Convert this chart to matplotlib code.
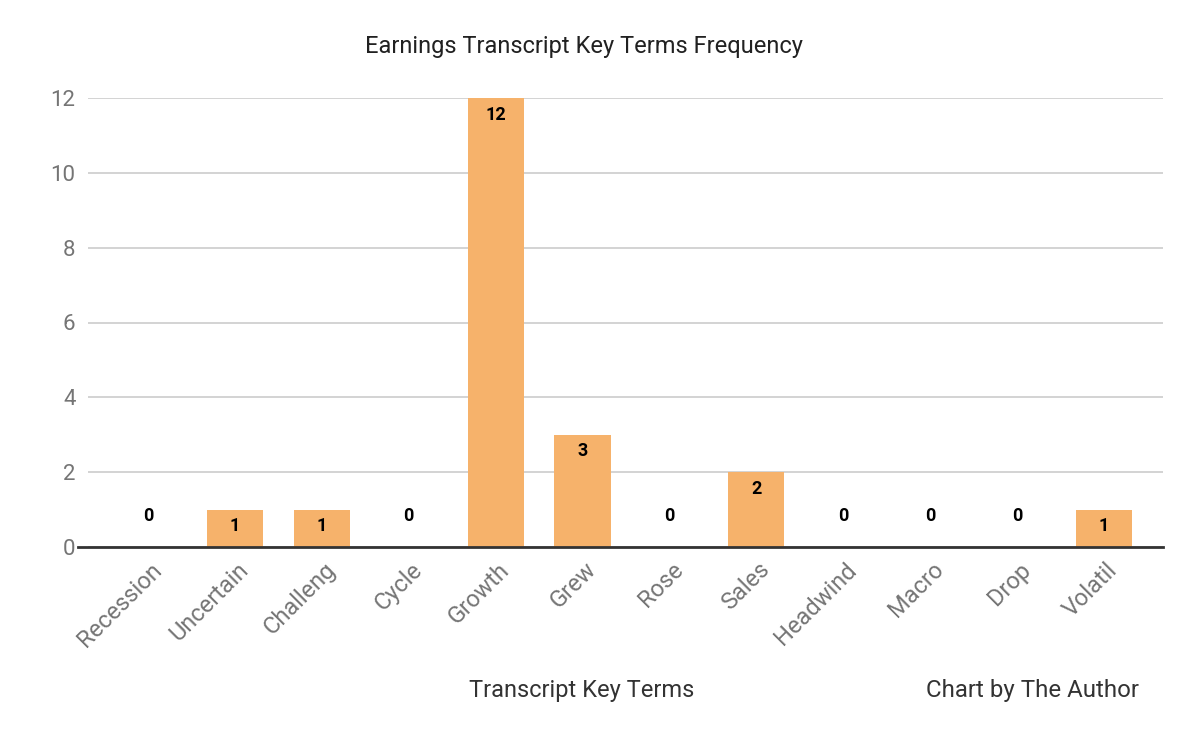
import matplotlib.pyplot as plt
from matplotlib.transforms import ScaledTranslation

terms = ["Recession", "Uncertain", "Challeng", "Cycle", "Growth", "Grew",
         "Rose", "Sales", "Headwind", "Macro", "Drop", "Volatil"]
counts = [0, 1, 1, 0, 12, 3, 0, 2, 0, 0, 0, 1]
yticks = [0, 2, 4, 6, 8, 10, 12]

plt.rcParams['font.family'] = ['Roboto', 'DejaVu Sans']

fig = plt.figure(figsize=(12, 7.41), dpi=100)
ax = fig.add_axes([88 / 1200, 1 - 547 / 741, 1075 / 1200, 449 / 741])

x = list(range(len(terms)))
ax.bar(x, counts, width=0.645, color="#F6B26B", zorder=3)

for xi, v in zip(x, counts):
    off = -12 if v > 0 else 22
    ax.annotate(str(v), (xi, v), xytext=(0, off), textcoords="offset points",
                ha="center", va="center", fontsize=13, fontweight="bold",
                color="black", zorder=4)

ax.set_xlim(-0.69, 11.68)
ax.set_ylim(0, 12)
ax.set_yticks(yticks)
ax.set_yticklabels([str(t) for t in yticks], fontsize=16, color="#757575")
ax.grid(axis="y", color="#cccccc", linewidth=1.2, zorder=0)
ax.tick_params(axis="y", length=0, pad=9)
ax.set_xticks(x)
ax.set_xticklabels(terms, rotation=45, ha="right", va="top",
                   rotation_mode="anchor", fontsize=17, color="#757575")
ax.tick_params(axis="x", length=0, pad=8)
shift = ScaledTranslation(2 / 100, 0, fig.dpi_scale_trans)
for lbl in ax.get_xticklabels():
    lbl.set_transform(lbl.get_transform() + shift)
for s in ax.spines.values():
    s.set_visible(False)

# baseline, extends a bit left of the gridlines
ax.plot([-0.81, 11.68], [0, 0], color="#333333", linewidth=2, clip_on=False, zorder=5)

fig.text(584 / 1200, 1 - 47 / 741, "Earnings Transcript Key Terms Frequency",
         ha="center", va="center", fontsize=17, color="#212121")
fig.text(582 / 1200, 1 - 691 / 741, "Transcript Key Terms",
         ha="center", va="center", fontsize=17, color="#333333")
fig.text(1139 / 1200, 1 - 691 / 741, "Chart by The Author",
         ha="right", va="center", fontsize=17.3, color="#333333")

fig.savefig("out.png", dpi=100)
